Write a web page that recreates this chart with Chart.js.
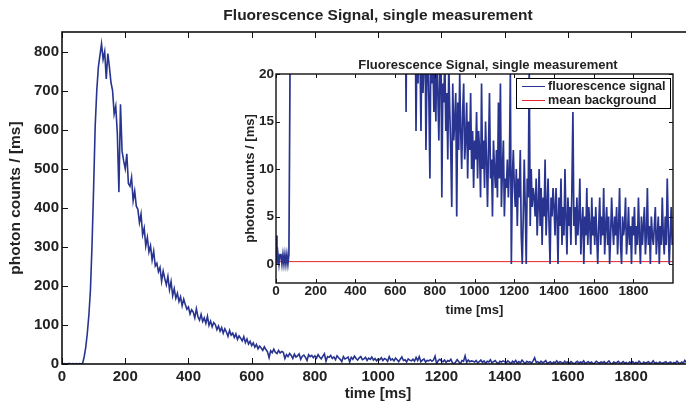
<!DOCTYPE html>
<html><head><meta charset="utf-8">
<script src="https://cdn.jsdelivr.net/npm/chart.js@4"></script>
<style>
html,body{margin:0;padding:0;background:#fff;overflow:hidden;width:686px;height:402px;position:relative;}
canvas{position:absolute;}
#main{left:0;top:0;}
#inset{left:230px;top:50px;}
#insetTitle{position:absolute;left:300px;width:376px;text-align:center;top:56.5px;font:bold 13px 'Liberation Sans',Arial,sans-serif;line-height:15px;color:#222;white-space:nowrap;}
#legend{position:absolute;left:516px;top:78px;width:153px;height:29px;border:1px solid #000;background:#fff;font:bold 12.6px 'Liberation Sans',Arial,sans-serif;line-height:14px;color:#222;}
#legend .row{position:relative;height:14px;white-space:nowrap;}
#legend .sw{position:absolute;left:5px;top:7px;width:23px;height:0;border-top:1px solid;}
#legend .tx{position:absolute;left:31px;top:0;}
</style>
</head><body>
<canvas id="main" width="700" height="402"></canvas>
<canvas id="inset" width="456" height="272"></canvas>
<div id="insetTitle"></div>
<div id="legend"></div>
<script>
const chartTitle = 'Fluorescence Signal, single measurement';
const xTitle = 'time [ms]';
const yTitle = 'photon counts / [ms]';
const seriesNames = ['fluorescence signal', 'mean background'];
const sampleStepMs = 5;
const photonCounts = [
  3,0,1,0,1,1,0,1,0,1,0,1,0,1,18,42,78,125,190,305,
  450,610,700,760,790,820,780,800,730,795,760,720,700,640,660,590,440,665,545,520,
  500,538,462,455,478,418,443,404,396,362,384,331,348,302,324,287,303,266,289,251,
  258,236,247,212,238,219,203,224,190,211,175,193,168,181,160,172,149,166,152,140,
  146,128,139,133,118,141,121,112,127,109,118,104,122,99,110,95,106,101,88,97,
  84,93,79,90,82,71,86,74,79,68,77,63,72,66,59,70,55,64,51,58,
  47,54,43,50,39,46,41,35,44,37,31,16,34,29,38,30,27,35,28,32,
  30,14,24,19,27,22,14,25,18,21,26,12,20,23,17,9,24,19,22,16,
  21,15,24,18,13,20,26,7,19,17,22,14,18,11,21,16,12,6,19,13,
  15,18,5,17,12,20,14,10,16,19,11,13,17,9,15,12,18,10,14,8,
  13,11,16,9,14,12,7,19,10,13,8,15,11,6,12,18,9,11,5,13,
  10,8,12,7,17,9,19,6,10,13,5,9,8,11,7,10,20,0,9,12,
  8,6,10,4,9,7,12,3,0,5,11,6,0,9,7,21,4,10,6,8,
  7,5,9,3,6,10,4,8,2,7,5,11,3,6,9,4,0,7,5,8,
  6,3,8,5,0,7,4,9,2,6,3,10,5,1,7,4,6,2,8,16,
  4,6,2,7,3,5,9,1,4,6,0,5,3,8,2,6,4,1,7,3,
  5,2,6,3,0,4,7,2,5,3,8,1,4,6,2,5,0,3,7,4,
  2,5,3,6,1,4,8,2,0,5,3,4,7,1,3,6,2,4,0,5,
  3,6,1,4,2,7,3,0,5,2,4,6,1,3,8,2,4,0,5,3,
  2,4,6,1,3,5,0,4,2,7,3,1,5,2,9,4,0,3,6,2
];
const meanBackground = 0.25;
const xRange = [0, 1999];
const mainYRange = [0, 850];
const insetYRange = [-2, 20];
const xTicks = [0, 200, 400, 600, 800, 1000, 1200, 1400, 1600, 1800];
const mainYTicks = [0, 100, 200, 300, 400, 500, 600, 700, 800];
const insetYTicks = [0, 5, 10, 15, 20];

// ---- styles ----
const FONT = "'Liberation Sans', Arial, sans-serif";
const TXT = '#222';
const BLUE = '#28348f';
const RED = '#e8222b';

const signalPoints = photonCounts.map((v, i) => ({x: i * sampleStepMs, y: v}));
const backgroundPoints = xRange.map(x => ({x, y: meanBackground}));

function setTicks(list) { return s => { s.ticks = list.map(v => ({value: v})); }; }
const plainLabel = v => String(v);

function boxTicksPlugin(len, lw) {
  return {
    id: 'boxTicks',
    beforeDraw(chart) {
      const {ctx, chartArea: a} = chart;
      ctx.save(); ctx.fillStyle = '#fff';
      ctx.fillRect(a.left, a.top, a.right - a.left, a.bottom - a.top);
      ctx.restore();
    },
    afterDatasetsDraw(chart) {
      const {ctx, chartArea: a, scales: {x, y}} = chart;
      ctx.save();
      ctx.strokeStyle = '#111';
      ctx.lineWidth = 1;
      ctx.beginPath();
      x.ticks.forEach(t => {
        const p = Math.round(x.getPixelForValue(t.value)) + 0.5;
        ctx.moveTo(p, a.bottom); ctx.lineTo(p, a.bottom - len);
        ctx.moveTo(p, a.top); ctx.lineTo(p, a.top + len);
      });
      y.ticks.forEach(t => {
        const p = Math.round(y.getPixelForValue(t.value)) + 0.5;
        ctx.moveTo(a.left, p); ctx.lineTo(a.left + len, p);
        ctx.moveTo(a.right, p); ctx.lineTo(a.right - len, p);
      });
      ctx.stroke();
      ctx.lineWidth = lw;
      ctx.strokeRect(a.left, a.top, a.right - a.left, a.bottom - a.top);
      ctx.restore();
    }
  };
}

function axisFont(size) { return {family: FONT, size, weight: 'bold'}; }

// ---- main chart ----
new Chart(document.getElementById('main'), {
  type: 'line',
  data: {datasets: [{label: seriesNames[0], data: signalPoints, borderColor: BLUE, borderWidth: 1.6, pointRadius: 0, tension: 0, fill: false}]},
  options: {
    animation: false, responsive: false, events: [],
    layout: {padding: {left: 0, right: 6, top: 0, bottom: 0}},
    plugins: {
      legend: {display: false}, tooltip: {enabled: false},
      title: {display: true, text: chartTitle, fullSize: false, color: TXT, font: axisFont(15.5), padding: {top: 6.2, bottom: 7.2}}
    },
    scales: {
      x: {
        type: 'linear', min: xRange[0], max: xRange[1],
        grid: {display: false, drawTicks: false}, border: {display: false},
        afterBuildTicks: setTicks(xTicks),
        ticks: {autoSkip: false, maxRotation: 0, padding: 4, color: TXT, font: axisFont(15), callback: plainLabel},
        title: {display: true, text: xTitle, color: TXT, font: axisFont(15), padding: {top: 0, bottom: -1}},
        afterFit(s) { s.height = 38; s.paddingLeft = 0; s.paddingRight = 0; }
      },
      y: {
        min: mainYRange[0], max: mainYRange[1],
        grid: {display: false, drawTicks: false}, border: {display: false},
        afterBuildTicks: setTicks(mainYTicks),
        ticks: {padding: 3, color: TXT, font: axisFont(15), callback: plainLabel},
        title: {display: true, text: yTitle, color: TXT, font: axisFont(15.5), padding: {top: 6.5, bottom: 0}},
        afterFit(s) { s.width = 62; s.paddingTop = 0; s.paddingBottom = 0; }
      }
    }
  },
  plugins: [boxTicksPlugin(6, 1.6)]
});

// ---- inset chart ----
const insetChart = new Chart(document.getElementById('inset'), {
  type: 'line',
  data: {datasets: [
    {label: seriesNames[0], data: signalPoints, borderColor: BLUE, borderWidth: 1.7, pointRadius: 0, tension: 0, fill: false},
    {label: seriesNames[1], data: backgroundPoints, borderColor: RED, borderWidth: 1, pointRadius: 0, tension: 0, fill: false}
  ]},
  options: {
    animation: false, responsive: false, events: [],
    layout: {padding: {left: 0, right: 13, top: 24, bottom: 0}},
    plugins: {legend: {display: false}, tooltip: {enabled: false}, title: {display: false}},
    scales: {
      x: {
        type: 'linear', min: xRange[0], max: xRange[1],
        grid: {display: false, drawTicks: false}, border: {display: false},
        afterBuildTicks: setTicks(xTicks),
        ticks: {autoSkip: false, maxRotation: 0, padding: 0, color: TXT, font: axisFont(13.5), callback: plainLabel},
        title: {display: true, text: xTitle, color: TXT, font: axisFont(13), padding: {top: 0, bottom: 4.2}},
        afterFit(s) { s.height = 39; s.paddingLeft = 0; s.paddingRight = 0; }
      },
      y: {
        min: insetYRange[0], max: insetYRange[1],
        grid: {display: false, drawTicks: false}, border: {display: false},
        afterBuildTicks: setTicks(insetYTicks),
        ticks: {padding: 2, color: TXT, font: axisFont(13.5), callback: plainLabel},
        title: {display: true, text: yTitle, color: TXT, font: axisFont(13), padding: {top: 12.2, bottom: 0}},
        afterFit(s) { s.width = 46; s.paddingTop = 0; s.paddingBottom = 0; }
      }
    }
  },
  plugins: [boxTicksPlugin(4, 1.4)]
});

document.getElementById('insetTitle').textContent = chartTitle;
const legend = document.getElementById('legend');
insetChart.data.datasets.forEach(ds => {
  const row = document.createElement('div'); row.className = 'row';
  const sw = document.createElement('span'); sw.className = 'sw'; sw.style.borderTopColor = ds.borderColor;
  const tx = document.createElement('span'); tx.className = 'tx'; tx.textContent = ds.label;
  row.appendChild(sw); row.appendChild(tx); legend.appendChild(row);
});
</script>
</body></html>
